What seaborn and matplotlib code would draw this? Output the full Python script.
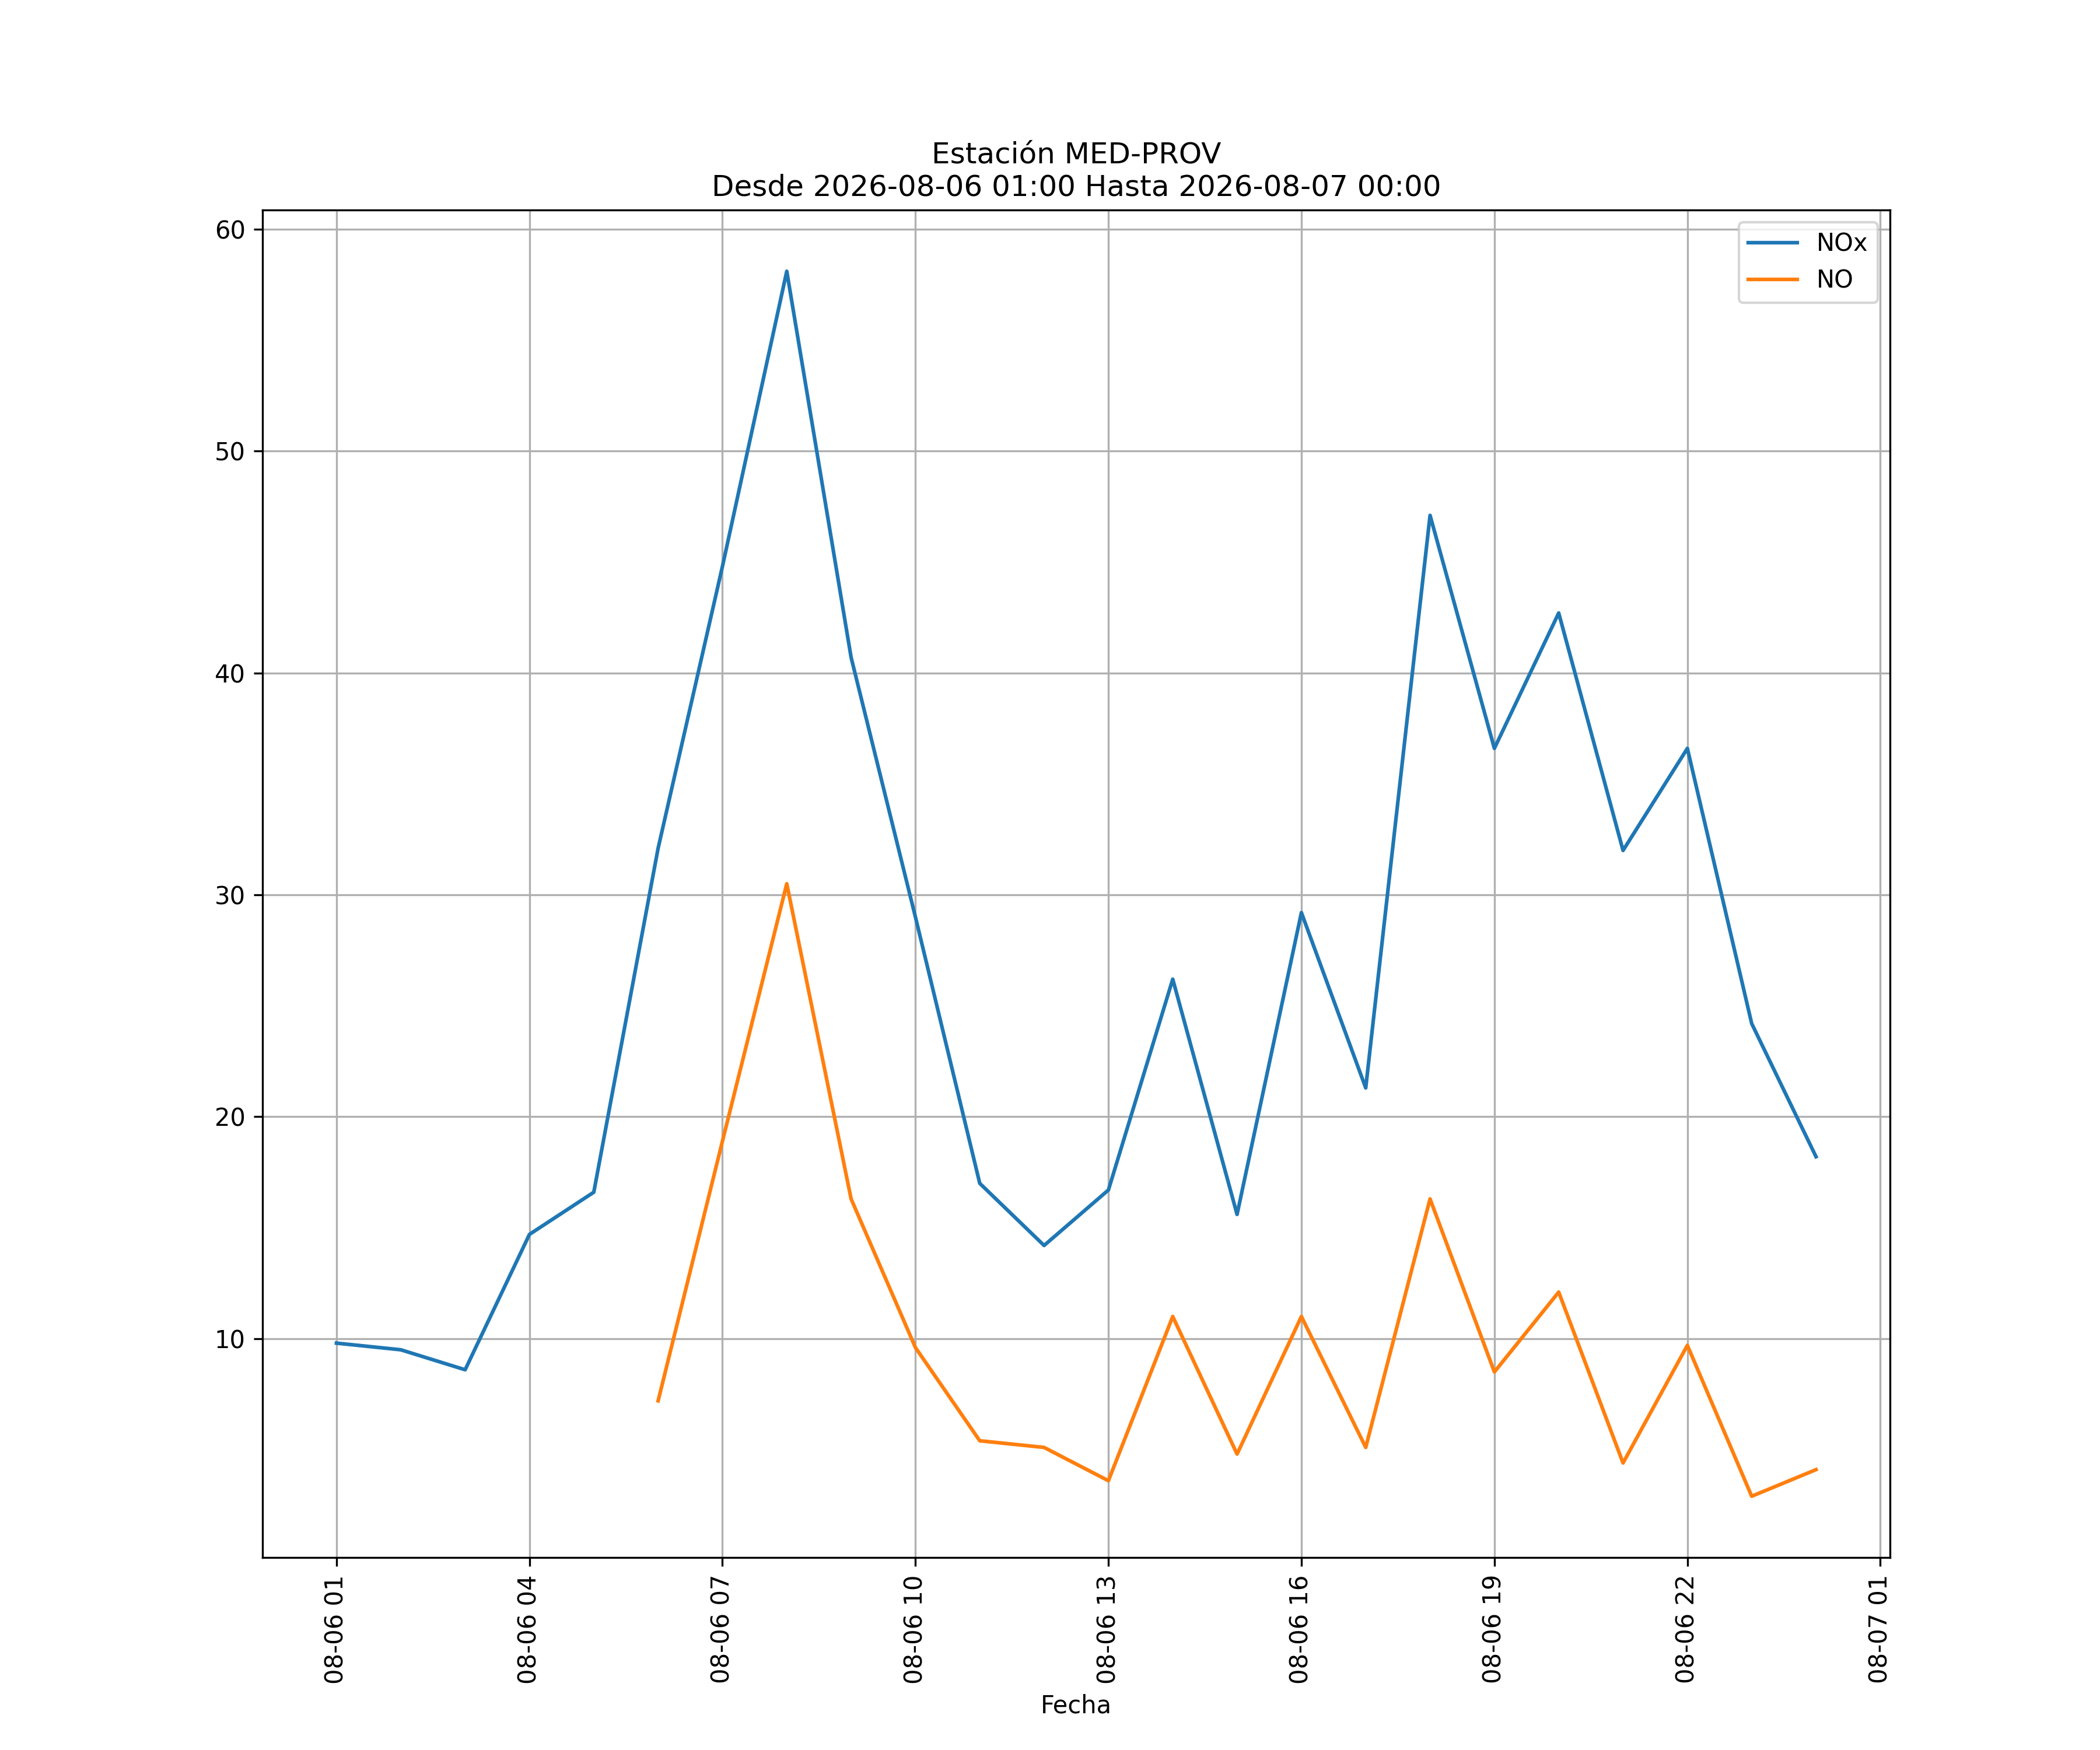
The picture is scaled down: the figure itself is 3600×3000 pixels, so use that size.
import matplotlib
matplotlib.use("Agg")
import matplotlib.pyplot as plt
import matplotlib.dates as mdates
import numpy as np
import pandas as pd
import seaborn as sns

FECHAS = pd.date_range("2026-08-06 01:00", "2026-08-07 00:00", freq="h")
NOX = [9.8, 9.5, 8.6, 14.7, 16.6, 32.1, 44.8, 58.1, 40.7, 29.0, 17.0, 14.2,
       16.7, 26.2, 15.6, 29.2, 21.3, 47.1, 36.6, 42.7, 32.0, 36.6, 24.2, 18.2]
NO = [np.nan, np.nan, np.nan, np.nan, np.nan, 7.2, 18.9, 30.5, 16.3, 9.6, 5.4, 5.1,
      3.6, 11.0, 4.8, 11.0, 5.1, 16.3, 8.5, 12.1, 4.4, 9.7, 2.9, 4.1]

df = pd.DataFrame({"Fecha": FECHAS, "NOx": NOX, "NO": NO})

fig, ax = plt.subplots(figsize=(12, 10), dpi=300)
sns.lineplot(data=df, x="Fecha", y="NOx", ax=ax, label="NOx", color="#1f77b4")
sns.lineplot(data=df, x="Fecha", y="NO", ax=ax, label="NO", color="#ff7f0e")

ax.xaxis.set_major_locator(mdates.HourLocator(interval=3))
ax.xaxis.set_major_formatter(mdates.DateFormatter("%m-%d %H"))
plt.setp(ax.get_xticklabels(), rotation=90)
ax.set_ylabel("")
ax.set_xlabel("Fecha")
ax.grid(True)
ax.legend(loc="upper right")
ax.set_title("Estación MED-PROV\nDesde 2026-08-06 01:00 Hasta 2026-08-07 00:00")

plt.savefig("out.png")
